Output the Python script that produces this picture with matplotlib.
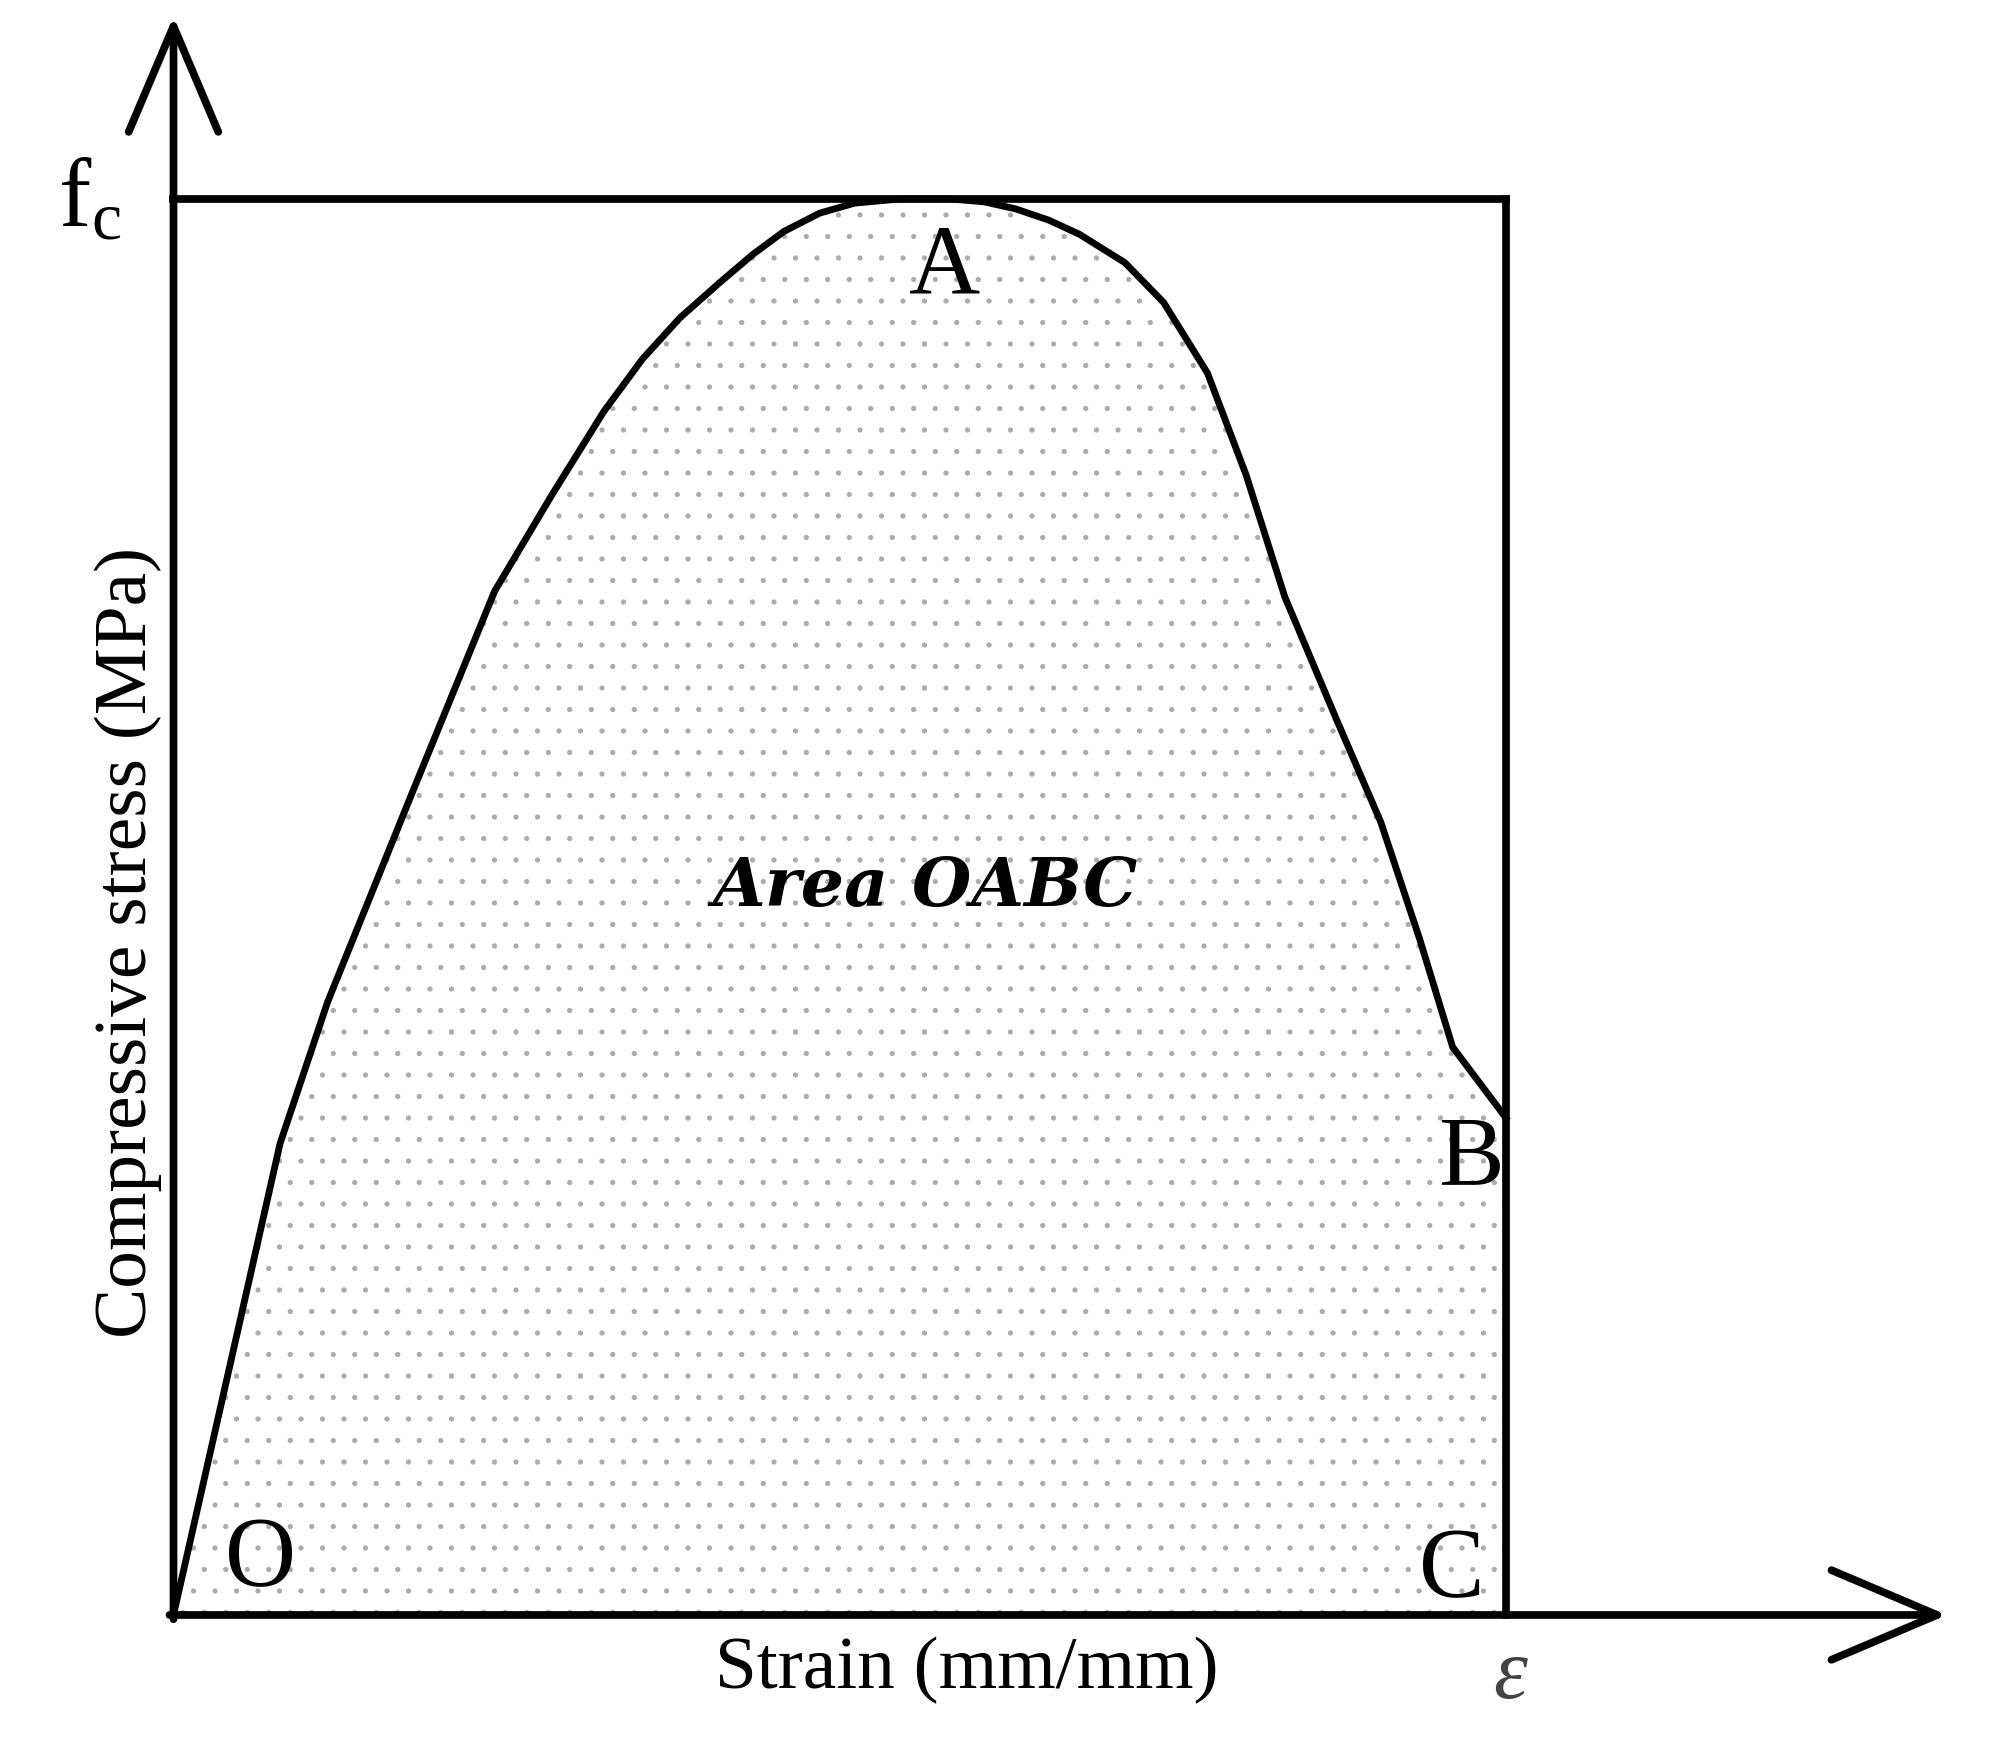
import numpy as np
import matplotlib.pyplot as plt

# normalised stress-strain curve (strain / eps_u, stress / fc)
strain = [0.0, 0.0386, 0.080, 0.1157, 0.178, 0.241, 0.284, 0.323, 0.352, 0.380,
          0.410, 0.435, 0.458, 0.485, 0.511, 0.545, 0.583, 0.608, 0.632, 0.657,
          0.680, 0.714, 0.743, 0.776, 0.805, 0.834, 0.873, 0.906, 0.935, 0.960, 1.0]
stress = [0.0, 0.1606, 0.333, 0.433, 0.578, 0.723, 0.791, 0.850, 0.887, 0.916,
          0.941, 0.961, 0.977, 0.990, 0.997, 1.0, 1.0, 0.998, 0.993, 0.985,
          0.975, 0.955, 0.927, 0.877, 0.805, 0.719, 0.632, 0.560, 0.478, 0.401, 0.351]
fc = 1.0
eps_u = 1.0

point_names = ["O", "A", "B", "C"]
point_pos = [(0.0655, 0.038), (0.579, 0.950), (0.974, 0.321), (0.959, 0.030)]

DPI = 129
plt.rcParams['font.family'] = ['Liberation Serif', 'DejaVu Serif']
plt.rcParams['mathtext.fontset'] = 'custom'
plt.rcParams['mathtext.rm'] = 'Liberation Serif'
plt.rcParams['mathtext.it'] = 'Liberation Serif:italic'
plt.rcParams['hatch.linewidth'] = 0.5

fig = plt.figure(figsize=(2015 / DPI, 1741 / DPI), dpi=DPI)
ax = fig.add_axes([0, 0, 1, 1])
ax.set_xlim(-0.1302, 1.382)
ax.set_ylim(-0.089, 1.1405)
ax.axis('off')

# dotted area under the curve
ax.fill_between(strain, stress, 0, facecolor='white', edgecolor='#ababab',
                hatch='.', linewidth=0, zorder=1)
ax.plot(strain, stress, color='black', lw=3.8, zorder=3)

# fc line and ultimate strain line
ax.plot([0, eps_u], [fc, fc], color='black', lw=4.3, zorder=3)
ax.plot([eps_u, eps_u], [fc, 0], color='black', lw=4.3, zorder=3)

# axes with open arrow heads
arr = dict(arrowstyle='->,head_length=5.9,head_width=2.5', lw=4.3, color='black',
           mutation_scale=10, shrinkA=0, shrinkB=0)
ax.annotate('', xy=(0, 1.129), xytext=(0, -0.003), arrowprops=arr, zorder=4)
ax.annotate('', xy=(1.331, 0), xytext=(-0.003, 0), arrowprops=arr, zorder=4)

for name, (x, y) in zip(point_names, point_pos):
    ax.text(x, y, name, fontsize=55, ha='center', va='center', zorder=5)

ax.text(-0.0627, 0.997, r'$\mathregular{f_c}$', fontsize=54, ha='center', va='center')
ax.text(1.003, -0.044, 'ε', fontsize=48, style='italic', color='#444444',
        ha='center', va='center')
ax.text(0.595, -0.039, 'Strain (mm/mm)', fontsize=42, ha='center', va='center')
ax.text(-0.0338, 0.475, 'Compressive stress (MPa)', fontsize=42, rotation=90,
        ha='center', va='center')
ax.text(0.564, 0.514, 'Area OABC', fontsize=38, family='DejaVu Serif',
        weight='bold', style='italic', ha='center', va='center', zorder=5)

fig.savefig('out.png', dpi=DPI, facecolor='white')
